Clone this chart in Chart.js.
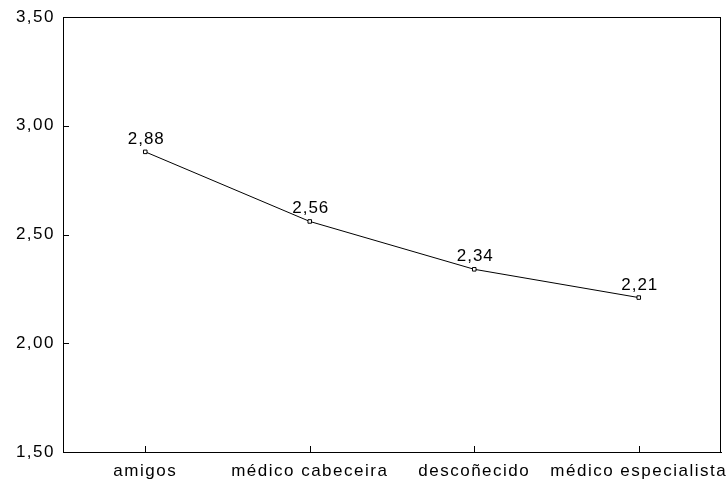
<!DOCTYPE html>
<html>
<head>
<meta charset="utf-8">
<script src="https://cdn.jsdelivr.net/npm/chart.js@4"></script>
<style>
  html, body { margin: 0; padding: 0; background: #fff; }
  #wrap { width: 726px; height: 487px; }
</style>
</head>
<body>
<div id="wrap"><canvas id="myLineChart"></canvas></div>
<script>
// chart data
const categories = ["amigos", "médico cabeceira", "descoñecido", "médico especialista"];
const meanValues = [2.88, 2.56, 2.34, 2.21];
const yTicks = [1.5, 2.0, 2.5, 3.0, 3.5];

const FONT = "'Liberation Sans', Arial, sans-serif";
const SPACING = "1.5px";

// comma as decimal separator
const fmt = (v) => v.toFixed(2).replace(".", ",");

// keeps letter spacing on the context (canvas resets it on resize)
const spacingPlugin = {
  id: "spacing",
  beforeUpdate: (chart) => { chart.ctx.letterSpacing = SPACING; },
  beforeDraw: (chart) => { chart.ctx.letterSpacing = SPACING; },
};

// frame round the plot, inward tick marks and value labels
const framePlugin = {
  id: "frame",
  afterDatasetsDraw: (chart) => {
    const { ctx, chartArea: a, scales } = chart;
    ctx.save();
    ctx.strokeStyle = "#000";
    ctx.lineWidth = 1;
    ctx.strokeRect(a.left + 0.5, a.top + 0.5, a.right - a.left - 1, a.bottom - a.top);

    // inward ticks
    ctx.beginPath();
    scales.x.ticks.forEach((t, i) => {
      const x = Math.round(scales.x.getPixelForTick(i)) + 0.5;
      ctx.moveTo(x, a.bottom);
      ctx.lineTo(x, a.bottom - 6);
    });
    scales.y.ticks.forEach((t, i) => {
      const y = Math.round(scales.y.getPixelForTick(i)) + 0.5;
      ctx.moveTo(a.left, y);
      ctx.lineTo(a.left + 6, y);
    });
    ctx.stroke();

    // value labels above the points
    ctx.letterSpacing = "1px";
    ctx.font = "17px " + FONT;
    ctx.fillStyle = "#000";
    ctx.textAlign = "center";
    ctx.textBaseline = "alphabetic";
    chart.getDatasetMeta(0).data.forEach((pt, i) => {
      ctx.fillText(fmt(meanValues[i]), pt.x + 1, pt.y - 8);
    });
    ctx.restore();
  },
};

new Chart(document.querySelector("#myLineChart"), {
  type: "line",
  data: {
    labels: categories,
    datasets: [
      {
        data: meanValues,
        borderColor: "#000",
        borderWidth: 1,
        pointStyle: "rect",
        pointRadius: 2.5,
        pointBackgroundColor: "#fff",
        pointBorderColor: "#000",
        pointBorderWidth: 1,
        tension: 0,
      },
    ],
  },
  plugins: [spacingPlugin, framePlugin],
  options: {
    responsive: true,
    maintainAspectRatio: false,
    animation: false,
    layout: { padding: { top: 17, right: 1, left: 0, bottom: 0 } },
    plugins: {
      legend: { display: false },
      tooltip: { enabled: false },
    },
    scales: {
      x: {
        type: "category",
        offset: true,
        grid: { display: false, drawTicks: false },
        border: { display: true, color: "#000", width: 1 },
        ticks: {
          color: "#000",
          padding: 9,
          maxRotation: 0,
          autoSkip: false,
          font: { family: FONT, size: 17 },
        },
        afterFit: (scale) => {
          scale.height = 35;
          scale.paddingLeft = 0; // let the last label run to the edge
          scale.paddingRight = 0;
        },
      },
      y: {
        min: 1.5,
        max: 3.5,
        afterBuildTicks: (scale) => {
          scale.ticks = yTicks.map((v) => ({ value: v }));
        },
        grid: { display: false, drawTicks: false },
        border: { display: true, color: "#000", width: 1 },
        ticks: {
          color: "#000",
          padding: 8,
          font: { family: FONT, size: 17 },
          callback: (value) => fmt(value),
        },
        afterFit: (scale) => {
          scale.width = 63;
          scale.paddingTop = 0;
          scale.paddingBottom = 0;
        },
      },
    },
  },
});
</script>
</body>
</html>
